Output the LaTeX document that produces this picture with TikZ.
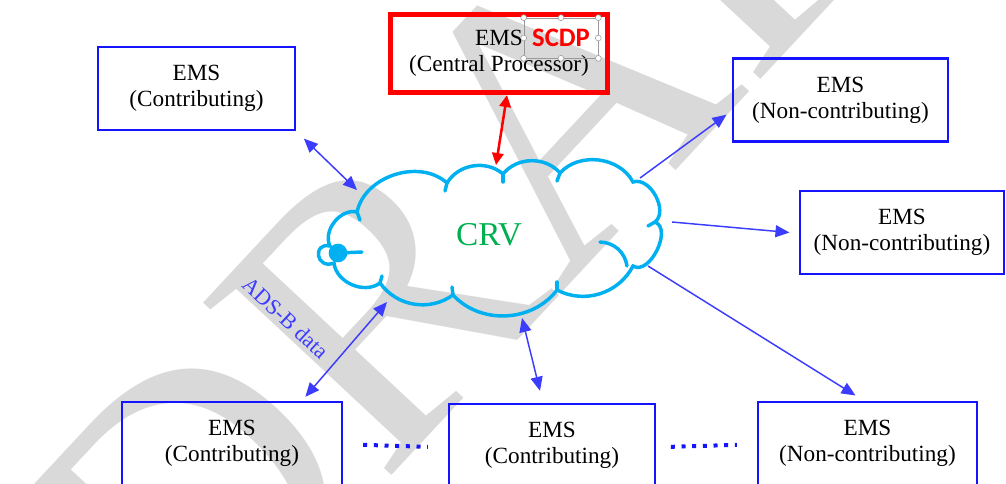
\documentclass[tikz,border=0pt]{standalone}
\usepackage{fontspec}
\setmainfont{Liberation Serif}
\newfontfamily\scdpfont{Carlito}
\usetikzlibrary{arrows.meta}
\definecolor{emsblue}{RGB}{20,20,255}
\definecolor{linkblue}{RGB}{60,60,255}
\definecolor{cloudcyan}{RGB}{0,176,240}
\definecolor{crvgreen}{RGB}{0,176,80}
\definecolor{cpred}{RGB}{255,0,0}
\begin{document}
\begin{tikzpicture}[x=0.75pt,y=-0.75pt,
  emsbox/.style={draw=emsblue, line width=1.8pt, minimum width=#1, minimum height=62.25pt,
    align=center, inner sep=0pt, font=\fontsize{17.4}{19.5}\selectfont},
  cpbox/.style={draw=cpred, line width=3.75pt, minimum width=162.75pt, minimum height=58.5pt,
    align=center, inner sep=0pt, font=\fontsize{17.4}{19.5}\selectfont},
  scdpbox/.style={draw=black!40, line width=0.5pt, minimum width=55.5pt, minimum height=30pt,
    inner sep=0pt, text=cpred, font=\scdpfont\bfseries\fontsize{20}{22}\selectfont},
  handle/.style={draw=black!40, fill=white, line width=0.4pt},
  link/.style={linkblue, line width=1.1pt, {Triangle[length=10.5pt,width=9pt]}-{Triangle[length=10.5pt,width=9pt]}},
  outlink/.style={linkblue, line width=1.1pt, -{Triangle[length=10.5pt,width=9pt]}},
  redlink/.style={cpred, line width=1.9pt, {Triangle[length=9pt,width=8.5pt]}-{Triangle[length=9pt,width=8.5pt]}},
  dotrow/.style={emsblue, line width=3pt, dash pattern=on 3pt off 5pt},
  cloudline/.style={cloudcyan, line width=2.6pt, line cap=round},
  watermark/.style={text=black!15, inner sep=0pt, font=\fontsize{292.5}{292.5}\selectfont}]
  \useasboundingbox (0,0) rectangle (1006,483);
  % watermark behind everything
  \node[watermark, rotate=47, anchor=base west] (draft) at (190,692) {DRAFT};

  % cloud
  \draw[cloudline] (357,212) to[bend left=60] (447,183) to[bend left=50] (503,174)
    to[bend left=50] (560,173) to[bend left=55] (633,182) to[bend left=80] (655,222)
    to[bend left=95] (633,266) to[bend left=45] (557,290) to[bend left=50] (453,295)
    to[bend left=45] (380,283) to[bend left=60] (334,263)
    .. controls (316,270) and (312,242) .. (330,246) to[bend left=65] (357,212);
  \draw[cloudline] (600,242) to[bend left=40] (627,266);
  \foreach \a/\b/\c/\d in {447/183/445/191, 503/174/503/182, 560/173/557/181, 655/222/648/226,
      557/290/557/282, 453/295/452/287, 380/283/382/276, 357/212/360/220}
    \draw[cloudline] (\a,\b) -- (\c,\d);
  \fill[cloudcyan] (338,253) circle (7pt);
  \draw[cloudline] (338,253) -- (362,252);
  \node[text=crvgreen, font=\fontsize{25}{25}\selectfont] (crv) at (489,235) {CRV};

  % boxes
  \node[emsbox=147.75pt] (tl) at (196.5,88.5) {EMS\\(Contributing)};
  \node[cpbox] (cp) at (499,53.5) {EMS\\(Central Processor)};
  \node[scdpbox] (scdp) at (561,38) {SCDP};
  \foreach \a in {north west,north,north east,east,south east,south,south west,west}
    \draw[handle] (scdp.\a) circle (2.2pt);
  \node[emsbox=161.25pt] (tr) at (840.5,100) {EMS\\(Non-contributing)};
  \node[emsbox=153pt] (mr) at (902,232.5) {EMS\\(Non-contributing)};
  \node[emsbox=165pt] (bl) at (232,443.5) {EMS\\(Contributing)};
  \node[emsbox=154.5pt] (bm) at (552,445.5) {EMS\\(Contributing)};
  \node[emsbox=164.25pt] (br) at (867.5,443.5) {EMS\\(Non-contributing)};

  % ends on the cloud
  \coordinate (crv-tl) at (357,190);
  \coordinate (crv-cp) at (496,165);
  \coordinate (crv-tr) at (640,178);
  \coordinate (crv-mr) at (672,222);
  \coordinate (crv-br) at (648,266);
  \coordinate (crv-bm) at (522,318);
  \coordinate (crv-bl) at (387,302);

  % connectors
  \draw[link, shorten <=8pt] (tl.south east) -- (crv-tl);
  \draw[redlink] ([xshift=6pt]cp.south) -- (crv-cp);
  \draw[outlink] (crv-tr) -- ([xshift=-4pt,yshift=-11pt]tr.west);
  \draw[outlink] (crv-mr) -- ([xshift=-7pt]mr.west);
  \draw[outlink] (crv-br) -- ([xshift=-9pt,yshift=4pt]br.north);
  \draw[link] (crv-bm) -- ([xshift=-9pt,yshift=9pt]bm.north);
  \draw[link] (crv-bl) -- ([xshift=55pt,yshift=3pt]bl.north);
  \node[text=linkblue, rotate=-43, font=\fontsize{16.5}{16.5}\selectfont] (adsb) at (285.5,318) {ADS-B data};

  % dotted gaps between the bottom boxes
  \draw[dotrow] ([xshift=15pt,yshift=-1pt]bl.east) -- ([xshift=-15pt,yshift=-1pt]bm.west);
  \draw[dotrow] ([xshift=11pt,yshift=-1pt]bm.east) -- ([xshift=-15pt,yshift=-1pt]br.west);
\end{tikzpicture}
\end{document}
